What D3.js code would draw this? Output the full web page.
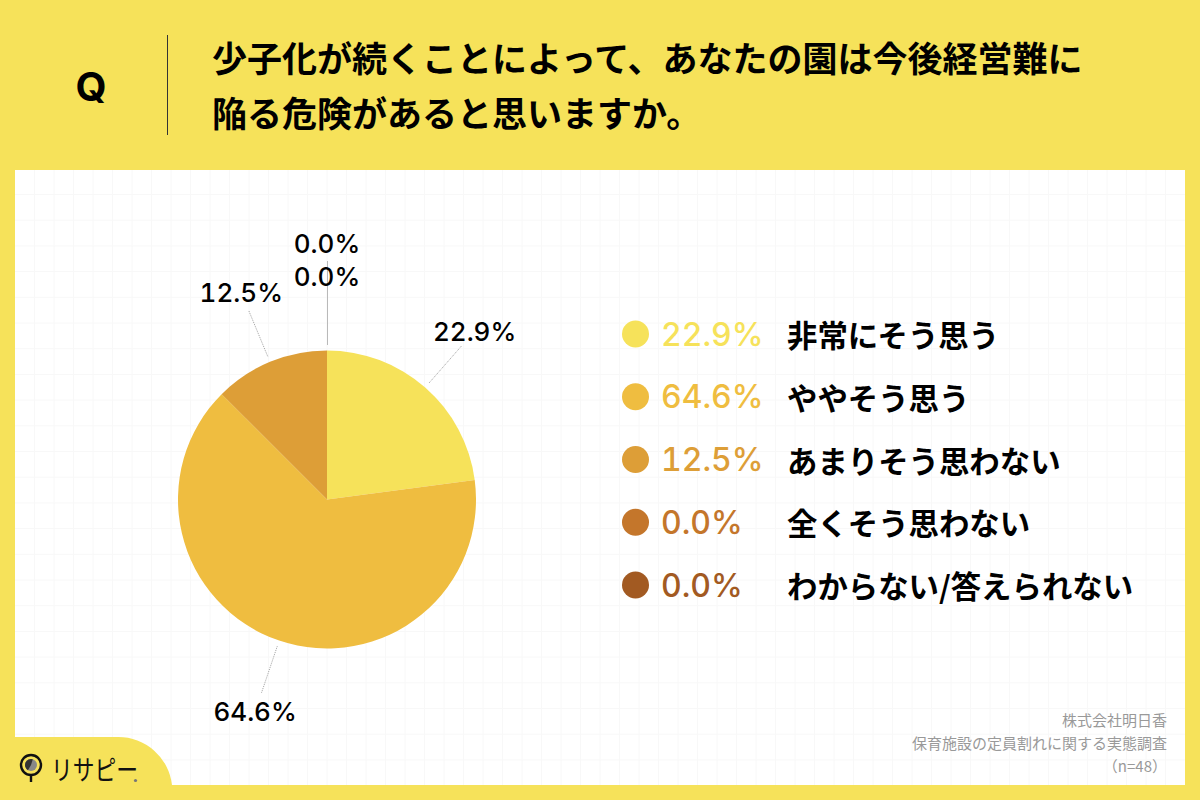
<!DOCTYPE html>
<html>
<head>
<meta charset="utf-8">
<script src="https://cdn.jsdelivr.net/npm/d3@7"></script>
<style>
  html, body { margin: 0; padding: 0; background: #f6e25a; }
  svg { display: block; }
  .jp { font-family: "Noto Sans CJK JP", sans-serif; }
  .num { font-family: Inter, "Liberation Sans", sans-serif; font-variant-numeric: tabular-nums; }
</style>
</head>
<body>
<svg id="chart" width="1200" height="800"></svg>
<script>
const questionLines = ["少子化が続くことによって、あなたの園は今後経営難に", "陥る危険があると思いますか。"];
const categories = ["非常にそう思う", "ややそう思う", "あまりそう思わない", "全くそう思わない", "わからない/答えられない"];
const values = [22.9, 64.6, 12.5, 0.0, 0.0];
const colors = ["#f6e25a", "#efbd40", "#dd9e37", "#c4762b", "#a25a22"];
const sourceLines = ["株式会社明日香", "保育施設の定員割れに関する実態調査", "（n=48）"];

const YELLOW = "#f6e25a";
const svg = d3.select("#chart");

// background panel
svg.append("rect").attr("width", 1200).attr("height", 800).attr("fill", YELLOW);
svg.append("rect").attr("x", 15).attr("y", 170).attr("width", 1170).attr("height", 615).attr("fill", "#fff");

// faint grid behind everything
const grid = svg.append("g").attr("stroke", "#f8f8f8").attr("stroke-width", 1);
grid.selectAll("line.v").data(d3.range(34.5, 1185, 19.5)).join("line")
    .attr("class", "v").attr("x1", d => d).attr("x2", d => d).attr("y1", 170).attr("y2", 785);
grid.selectAll("line.h").data(d3.range(194.5, 785, 25.7)).join("line")
    .attr("class", "h").attr("y1", d => d).attr("y2", d => d).attr("x1", 15).attr("x2", 1185);

// header
svg.append("text").attr("class", "num").attr("x", 91).attr("y", 101)
    .attr("text-anchor", "middle").attr("font-size", 40).attr("font-weight", 700).text("Q");
svg.append("line").attr("x1", 167.5).attr("x2", 167.5).attr("y1", 35).attr("y2", 135)
    .attr("stroke", "#333").attr("stroke-width", 1);
svg.append("g").selectAll("text").data(questionLines).join("text")
    .attr("class", "jp").attr("x", 212).attr("y", (d, i) => 72 + i * 55)
    .attr("font-size", 35).attr("font-weight", 700).attr("fill", "#000")
    .text(d => d);

// pie
const cx = 327, cy = 499.5, R = 149;
const pie = d3.pie().sort(null).value(d => d);
const arcs = pie(values);
const arc = d3.arc().innerRadius(0).outerRadius(R);
const g = svg.append("g").attr("transform", `translate(${cx},${cy})`);

g.selectAll("path").data(arcs).join("path")
    .attr("d", arc).attr("fill", (d, i) => colors[i]);

// zero slices all sit at the top, so stack their labels
const midAngle = d => {
    const a = (d.startAngle + d.endAngle) / 2;
    return d.value === 0 ? 0 : a;
};
const polar = (a, r) => [Math.sin(a) * r, -Math.cos(a) * r];

const leaders = g.append("g");
leaders.selectAll("line").data(arcs.filter(d => d.value > 0)).join("line")
    .attr("x1", d => polar(midAngle(d), 155)[0])
    .attr("y1", d => polar(midAngle(d), 155)[1])
    .attr("x2", d => polar(midAngle(d), 205)[0])
    .attr("y2", d => polar(midAngle(d), 205)[1])
    .attr("stroke", "#888").attr("stroke-width", 0.8).attr("stroke-dasharray", "1 1");
leaders.append("line").attr("x1", 0.5).attr("x2", 0.5).attr("y1", -155).attr("y2", -239)
    .attr("stroke", "#555").attr("stroke-width", 0.8).attr("stroke-dasharray", "1 1");

let zeroCount = 0;
g.append("g").selectAll("text").data(arcs).join("text")
    .attr("class", "num")
    .attr("text-anchor", "middle").attr("dominant-baseline", "central")
    .attr("font-size", 26).attr("font-weight", 500).attr("fill", "#000")
    .attr("transform", d => {
        const r = d.value === 0 ? 223 + 33 * (zeroCount++) : 224;
        return `translate(${polar(midAngle(d), r)})`;
    })
    .text(d => d.value.toFixed(1) + "%");

// legend
const legendY = d3.scalePoint().domain(categories).range([334, 585]);
const legend = svg.append("g").selectAll("g").data(categories).join("g")
    .attr("transform", d => `translate(0,${legendY(d)})`);
legend.append("circle").attr("cx", 635.5).attr("r", 13.5).attr("fill", (d, i) => colors[i]);
legend.append("text").attr("class", "num").attr("x", 661)
    .attr("dominant-baseline", "central").attr("font-size", 32).attr("font-weight", 500)
    .attr("fill", (d, i) => colors[i])
    .text((d, i) => values[i].toFixed(1) + "%");
legend.append("text").attr("class", "jp").attr("x", 787)
    .attr("dominant-baseline", "central").attr("font-size", 30.4).attr("font-weight", 700)
    .attr("fill", "#000").text(d => d);

// source note
svg.append("g").selectAll("text").data(sourceLines).join("text")
    .attr("class", "jp").attr("x", 1167)
    .attr("y", (d, i) => 726 + i * 23).attr("text-anchor", "end")
    .attr("font-size", 15).attr("fill", "#999").text(d => d);

// logo tab, bottom left
svg.append("path")
    .attr("d", "M15,737 H118 A54,54 0 0 1 172,785 V800 H15 Z")
    .attr("fill", YELLOW);
const logo = svg.append("g");
logo.append("circle").attr("cx", 31).attr("cy", 765).attr("r", 10)
    .attr("fill", YELLOW).attr("stroke", "#111").attr("stroke-width", 2.4);
logo.append("circle").attr("cx", 31).attr("cy", 765).attr("r", 6).attr("fill", "#888");
logo.append("path").attr("d", d3.arc().innerRadius(0).outerRadius(6).startAngle(-2.6).endAngle(0.3)())
    .attr("transform", "translate(31,765)").attr("fill", "#333");
logo.append("line").attr("x1", 31).attr("x2", 31).attr("y1", 776).attr("y2", 782)
    .attr("stroke", "#111").attr("stroke-width", 2.4);
logo.append("text").attr("class", "jp").attr("x", 51).attr("y", 780)
    .attr("font-size", 27).attr("font-weight", 400).attr("fill", "#111")
    .attr("textLength", 87).attr("lengthAdjust", "spacingAndGlyphs")
    .text("リサピー");
logo.append("circle").attr("cx", 135.5).attr("cy", 780.5).attr("r", 1.6).attr("fill", "#777");
</script>
</body>
</html>
